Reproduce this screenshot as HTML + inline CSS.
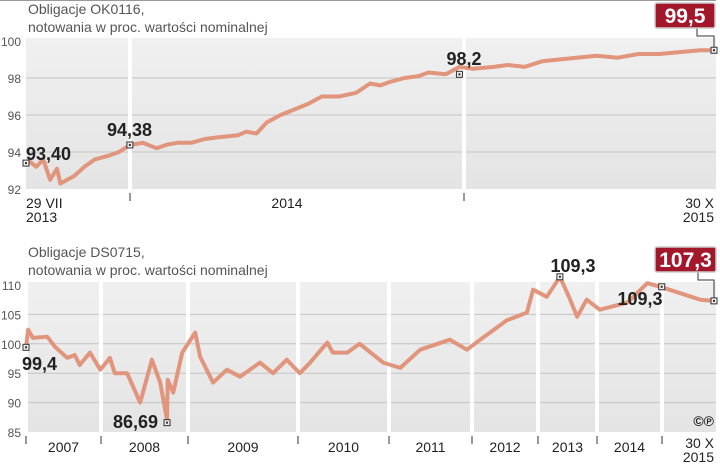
<!DOCTYPE html>
<html><head><meta charset="utf-8"><style>
body{margin:0;background:#fff;width:720px;height:467px;overflow:hidden}
svg{display:block;font-family:"Liberation Sans Narrow","Liberation Sans",sans-serif}
</style></head><body>
<svg id="c" width="720" height="467">
<defs><linearGradient id="g" x1="0" y1="0" x2="0" y2="1"><stop offset="0" stop-color="#f0f0f0"/><stop offset="1" stop-color="#e4e4e4"/></linearGradient></defs>
<line x1="0" y1="0.5" x2="716" y2="0.5" stroke="#999" stroke-width="1"/>
<text x="28" y="14" font-size="14" fill="#555">Obligacje OK0116,</text>
<text x="28" y="32" font-size="14" fill="#555">notowania w proc. wartości nominalnej</text>
<text x="28" y="257" font-size="14" fill="#555">Obligacje DS0715,</text>
<text x="28" y="275" font-size="14" fill="#555">notowania w proc. wartości nominalnej</text>
</svg>
<script>
// Chart 1 data (t = fraction of time span in %, v = price)
const t1 = [0,0.5,1.5,2.5,3.5,4.5,5,7,8.5,10,12,13.5,15.1,17,19,20.5,22,24,26,28,30.8,32,33.5,35,37,39,41,43,45.5,48,50,51.5,53,55,57,58.5,61,63,65,68,70,72.5,75,77.5,80,83,86,89,92,95,98,100];
const v1 = [93.4,93.5,93.2,93.6,92.5,93.1,92.3,92.7,93.2,93.6,93.8,94.0,94.38,94.5,94.2,94.4,94.5,94.5,94.7,94.8,94.9,95.1,95.0,95.6,96.0,96.3,96.6,97.0,97.0,97.2,97.7,97.6,97.8,98.0,98.1,98.3,98.2,98.6,98.5,98.6,98.7,98.6,98.9,99.0,99.1,99.2,99.1,99.3,99.3,99.4,99.5,99.5];
const yTicks1 = [92,94,96,98,100];
// Chart 2 data
const t2 = [0,0.3,1.0,3.1,4.2,6.0,7.1,7.8,9.3,10.8,12.2,12.9,14.7,16.6,18.3,19.5,20.5,20.6,21.4,22.7,24.6,25.3,27.2,29.2,31.1,34.0,35.9,37.9,39.8,41.3,43.8,44.6,46.7,48.5,51.9,54.4,57.3,61.6,64.1,66.0,69.9,72.8,73.7,75.7,77.6,79.1,80.1,81.5,83.4,87.4,90.3,92.2,95.1,98.0,100];
const v2 = [99.4,102.4,101,101.2,99.5,97.6,98.1,96.4,98.5,95.6,97.6,95,95,90,97.3,93.4,87.1,93.9,91.7,98.5,101.9,97.8,93.4,95.6,94.4,96.8,95,97.3,95,96.8,100.2,98.5,98.5,100,96.8,95.9,99,100.7,99,100.7,104,105.3,109.2,108,111.4,107.5,104.6,107.5,105.8,107,110.3,109.7,108.6,107.5,107.3];
const yTicks2 = [85,90,95,100,105,110];
const years2 = ["2007","2008","2009","2010","2011","2012","2013","2014"];

const svg=document.getElementById('c');
const NS='http://www.w3.org/2000/svg';
function el(tag,attrs,parent){const e=document.createElementNS(NS,tag);for(const k in attrs)e.setAttribute(k,attrs[k]);(parent||svg).appendChild(e);return e;}

function chart(cfg){
  const {x0,x1,yTop,yBot,vMin,vMax,t,v,ticks,seps,pfx}=cfg;
  const X=p=>x0+(x1-x0)*p/100;
  const Y=val=>yBot-(val-vMin)/(vMax-vMin)*(yBot-yTop);
  const bg=el('rect',{x:x0,y:yTop-3,width:x1-x0+2,height:yBot-yTop+3,fill:'url(#g)'});
  
  
  ticks.forEach(tk=>{
    if(tk!==vMin && tk!==vMax){
      const g=el('line',{x1:x0,x2:x1+2,y1:Y(tk),y2:Y(tk),stroke:'#c4c4c4','stroke-width':1});
      
      
    }
    const tx=el('text',{x:21,y:Y(tk)+5,'font-size':12,fill:'#555','text-anchor':'end'});
    tx.textContent=tk;
    
    
  });
  seps.forEach(sx=>{
    const s=el('rect',{x:sx-2,y:yTop-3,width:4,height:yBot-yTop+3,fill:'#fff'});
    
    
    const tkl=el('line',{x1:sx,x2:sx,y1:yBot+4,y2:yBot+12,stroke:'#333','stroke-width':1});
    
    
  });
  let d='';
  t.forEach((tt,i)=>{d+=(i?'L':'M')+X(tt).toFixed(1)+','+Y(v[i]).toFixed(1);});
  const ln=el('path',{d:d,fill:'none',stroke:'#e0957c','stroke-width':4,'stroke-linejoin':'round'});
  
  
  return {X,Y};
}
function marker(x,y,name){
  const m=el('rect',{x:x-3,y:y-3,width:6,height:6,fill:'#eee',stroke:'#333','stroke-width':1});
  
  
  el('rect',{x:x-1,y:y-1,width:2,height:2,fill:'#333'});
}
function label(x,y,txt,name,anchor,size){
  const tx=el('text',{x:x,y:y,'font-size':size||18,'font-weight':'bold',fill:'#222','text-anchor':anchor||'start'});
  tx.textContent=txt;
  
  
}
function plain(x,y,txt,name,anchor){
  const tx=el('text',{x:x,y:y,'font-size':14,fill:'#222','text-anchor':anchor||'start'});
  tx.textContent=txt;
  
  
}
function redBox(x,y,w,txt,name,tx,ty){
  el('polyline',{points:`${x+w-18},${y+25} ${x+w-18},${y+33} ${tx},${y+33} ${tx},${ty}`,fill:'none',stroke:'#333','stroke-width':1});
  const b=el('rect',{x:x,y:y,width:w,height:25,fill:'#a3172b',stroke:'#ccc','stroke-width':1.5,rx:2});
  
  
  const t=el('text',{x:x+w/2,y:y+20,'font-size':21,'font-weight':'bold',fill:'#fff','text-anchor':'middle'});
  t.textContent=txt;
  
  
}

// Chart 1
const c1=chart({x0:26,x1:714,yTop:41,yBot:189,vMin:92,vMax:100,t:t1,v:v1,ticks:yTicks1,seps:[130,464],pfx:'chart1'});
marker(c1.X(t1[0]),c1.Y(v1[0]),'chart1-start-marker');
label(26,160,'93,40','chart1-start-value');
marker(c1.X(15.1),c1.Y(94.38),'chart1-marker-94');
label(107,136,'94,38','chart1-value-94');
marker(c1.X(63),c1.Y(98.2),'chart1-marker-98');
label(464,65,'98,2','chart1-value-98','middle');
marker(c1.X(100),c1.Y(99.5),'chart1-end-marker');
redBox(655,3,60,'99,5','chart1-last-value-box',714,c1.Y(99.5)-3);
plain(26,208,'29 VII','chart1-x-start-label');
plain(26,222,'2013','chart1-x-start-year');
plain(287,208,'2014','chart1-x-2014-label','middle');
plain(714,208,'30 X','chart1-x-end-label','end');
plain(714,222,'2015','chart1-x-end-year','end');

// Chart 2
const seps2=[101,188,298,389,472,538,597,662];
const c2=chart({x0:26,x1:714,yTop:285,yBot:432,vMin:85,vMax:110,t:t2,v:v2,ticks:yTicks2,seps:[26].concat(seps2),pfx:'chart2'});
const bounds=[26].concat(seps2);
years2.forEach((y,i)=>{plain((bounds[i]+bounds[i+1])/2,452,y,'chart2-year-label-'+y,'middle');});
plain(714,448,'30 X','chart2-x-end-label','end');
plain(714,462,'2015','chart2-x-end-year','end');
marker(c2.X(0),c2.Y(99.4),'chart2-start-marker');
label(22,370,'99,4','chart2-start-value');
marker(c2.X(20.5),c2.Y(87.1)+3,'chart2-min-marker');
label(158,428,'86,69','chart2-min-value','end');
marker(c2.X(77.6),c2.Y(111.4),'chart2-max-marker');
label(573,272,'109,3','chart2-max-value','middle');
marker(c2.X(92.4),c2.Y(109.7),'chart2-marker-2014');
label(640,305,'109,3','chart2-value-2014','middle');
marker(c2.X(100),c2.Y(107.3),'chart2-end-marker');
redBox(655,247,61,'107,3','chart2-last-value-box',714,c2.Y(107.3)-3);
const cp=el('text',{x:714,y:426,'font-size':14,'font-weight':'bold',fill:'#222','text-anchor':'end'});
cp.textContent='©℗';


</script>
</body></html>
